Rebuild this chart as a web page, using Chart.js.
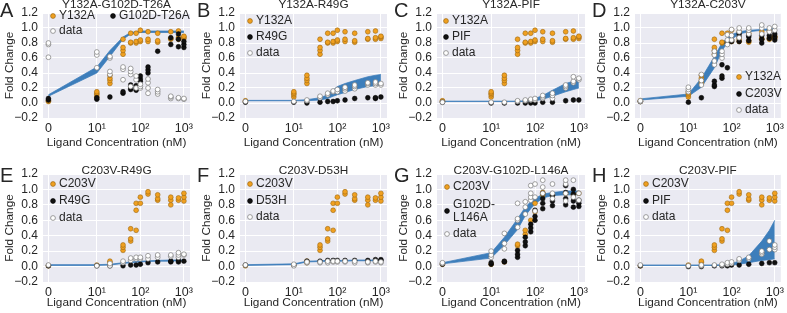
<!DOCTYPE html>
<html>
<head>
<meta charset="utf-8">
<script src="https://cdn.jsdelivr.net/npm/chart.js@4.4.1/dist/chart.umd.min.js"></script>
<style>
  html, body { margin: 0; padding: 0; background: #fff; }
  #wrap { position: relative; width: 787px; height: 313px; overflow: hidden; }
  #wrap canvas { position: absolute; left: 0; top: 0; }
</style>
</head>
<body>
<div id="wrap"></div>
<script>
// ======================
// Data
// ======================
const conc = [0, 10, 20, 40, 60, 80, 100, 150, 250, 500, 750, 1000];
const xTicks = [0, 10, 100, 1000];
const xTickLabels = ['0', '10\u00B9', '10\u00B2', '10\u00B3'];
const yTicks = [-0.2, 0, 0.2, 0.4, 0.6, 0.8, 1.0, 1.2];

// replicates per concentration
const y132a = [[0.02,0.03],[0.08,0.11,0.13,0.15],[0.26,0.30,0.33,0.37],[0.65,0.70,0.74,0.85],[0.80,0.81,0.93],[0.80,0.82,0.93],[0.82,0.84,0.97],[0.82,0.85,0.95],[0.81,0.83,0.93],[0.85,0.86,0.95],[0.85,0.87,0.96],[0.86,0.88,0.89]];
const c203v = [[0.01],[0.02],[0.05,0.07],[0.21,0.25,0.28],[0.33,0.36,0.49],[0.47,0.73,0.82],[0.82,0.90],[0.94,0.97],[0.86,0.88,0.93],[0.80,0.86,0.90],[0.86,0.89],[0.85,0.90,0.95]];
const c203vG = [[0.03],[0.03],[0.06],[0.27,0.29],[0.42,0.47],[0.60],[0.71,0.82],[0.93,0.96],[0.93],[0.95],[0.93],[0.95]];

const g102dT26a = [[0.04,0.06],[0.05,0.07],[0.08],[0.13,0.15],[0.18,0.20,0.24],[0.17,0.20,0.23],[0.29,0.32,0.36],[0.40,0.44,0.48],[0.69],[0.78,0.87],[0.75,0.85,0.92],[0.74,0.78,0.82]];
const r49gB = [[0.01],[0.01],[0.00],[0.01],[0.02],[0.02],[0.03],[0.04],[0.06],[0.07],[0.06,0.07],[0.08]];
const pifC = [[0.01],[0.00],[0.00],[0.00],[0.00],[0.00],[0.00],[0.01],[0.01],[0.03],[0.04],[0.04]];
const c203vD = [[0.02],[0.01],[0.07],[0.22,0.24,0.29],[0.33,0.36,0.51],[0.47,0.80],[0.82,0.84],[0.82,0.88,0.92],[0.83,0.88,0.90],[0.80,0.85,0.90],[0.86,0.90],[0.84,0.88,0.92]];
const r49gE = [[0.01],[0.01],[0.01],[0.01],[0.02],[0.02],[0.03],[0.05],[0.06],[0.06,0.07],[0.06,0.08],[0.07]];
const d53h = [[0.02],[0.02],[0.07],[0.07],[0.07,0.08],[0.08],[0.08],[0.08],[0.08],[0.08],[0.09],[0.08,0.09]];
const g102dL146a = [[0.03],[0.03,0.05],[0.06,0.07],[0.12,0.16,0.21],[0.27,0.32,0.38],[0.45,0.50,0.55],[0.60,0.65,0.73],[0.75,0.82,0.88,0.95],[0.79,0.85,0.92],[0.80,0.88,0.96,1.05],[0.77,0.85,0.94,1.00],[0.78,0.82,0.86]];
const pifH = [[0.01],[0.00],[0.00],[0.01],[0.01],[0.01],[0.02],[0.02],[0.03],[0.04],[0.05],[0.05]];

const dataA = [[0.61,0.78,0.80],[0.47,0.64,0.68],[0.38,0.42,0.60,0.62],[0.31,0.45,0.48],[0.22,0.38,0.42,0.46],[0.20,0.31,0.36],[0.20,0.22,0.25],[0.13,0.20,0.27,0.32],[0.12,0.15,0.18],[0.06,0.08,0.09],[0.06,0.07],[0.05,0.06]];
const dataB = [[0.02],[0.02],[0.03,0.04],[0.07,0.09],[0.11,0.13],[0.15,0.16],[0.15,0.18],[0.16,0.19,0.21],[0.19,0.22,0.24],[0.24,0.26,0.27],[0.24,0.26,0.28],[0.24,0.26]];
const dataC = [[0.01],[0.01],[0.01],[0.02,0.03],[0.03,0.04],[0.04,0.05],[0.04,0.06],[0.06,0.08,0.10],[0.06,0.10,0.13],[0.20,0.22,0.24],[0.27,0.29,0.35],[0.31,0.33]];
const dataD = [[0.02,0.03],[0.15,0.18,0.21],[0.24,0.30,0.38],[0.51,0.56,0.64,0.69],[0.60,0.65,0.69],[0.78,0.84,0.91],[0.84,0.90,0.98],[0.87,0.95,1.00],[0.92,0.97,1.00],[0.92,1.00,1.04],[0.95,1.00],[0.97,1.02]];
const dataE = [[0.02],[0.01],[0.01,0.04],[0.05,0.07],[0.08,0.11],[0.10,0.12],[0.10,0.12],[0.10,0.14],[0.12,0.15],[0.13,0.15],[0.12,0.15,0.18],[0.15,0.16]];
const dataF = [[0.02],[0.01,0.03],[0.05,0.06],[0.05,0.06],[0.05,0.07],[0.06,0.07],[0.06,0.07],[0.06,0.07],[0.05,0.07],[0.05,0.06],[0.06,0.07],[0.05,0.06]];
const dataG = [[0.04,0.05],[0.12,0.15,0.20],[0.23,0.30,0.43],[0.51,0.60,0.62,0.82],[0.68,0.77,0.84],[0.86,0.90,0.95,1.05],[0.72,0.90,1.07],[0.95,1.03,1.12],[0.88,0.95,1.07],[0.85,0.95,1.07,1.12],[0.90,1.12],[0.86,0.95]];
const dataH = [[0.02],[0.01],[0.01,0.02],[0.02],[0.02,0.03],[0.03,0.05],[0.04,0.06],[0.08,0.10],[0.10,0.12],[0.16,0.18,0.20],[0.22,0.33],[0.22,0.25,0.28]];

// model bands (lower / upper) per concentration
const lowA = [0.09,0.40,0.62,0.85,0.92,0.93,0.94,0.94,0.94,0.94,0.94,0.94];
const upA  = [0.11,0.48,0.70,0.88,0.94,0.95,0.96,0.96,0.96,0.96,0.96,0.96];
const lowB = [0.03,0.03,0.03,0.04,0.06,0.09,0.11,0.14,0.18,0.22,0.23,0.24];
const upB  = [0.035,0.035,0.045,0.07,0.11,0.17,0.22,0.26,0.30,0.35,0.37,0.38];
const lowC = [0.02,0.02,0.02,0.02,0.02,0.025,0.03,0.05,0.09,0.15,0.18,0.20];
const upC  = [0.025,0.025,0.025,0.025,0.03,0.04,0.06,0.10,0.17,0.26,0.29,0.31];
const lowD = [0.04,0.09,0.21,0.47,0.70,0.80,0.85,0.92,0.95,0.97,0.97,0.97];
const upD  = [0.055,0.12,0.33,0.62,0.80,0.87,0.91,0.95,0.97,0.98,0.99,0.99];
const lowE = [0.015,0.015,0.02,0.04,0.05,0.055,0.06,0.065,0.07,0.07,0.075,0.075];
const upE  = [0.025,0.025,0.03,0.05,0.06,0.065,0.07,0.075,0.08,0.085,0.085,0.085];
const lowF = [0.015,0.025,0.06,0.065,0.07,0.07,0.07,0.07,0.075,0.075,0.075,0.075];
const upF  = [0.025,0.035,0.07,0.075,0.08,0.08,0.08,0.08,0.085,0.085,0.085,0.085];
const lowG = [0.035,0.11,0.28,0.48,0.66,0.75,0.81,0.89,0.92,0.93,0.93,0.93];
const upG  = [0.05,0.18,0.38,0.62,0.77,0.84,0.88,0.94,0.96,0.98,0.98,0.98];
const lowH = [0.015,0.015,0.015,0.015,0.015,0.02,0.02,0.03,0.05,0.08,0.09,0.10];
const upH  = [0.02,0.02,0.02,0.02,0.025,0.03,0.04,0.07,0.14,0.33,0.47,0.60];

// ======================
// Layout / style
// ======================
const W = 787, H = 313;
const cols = [[43, 190], [240, 387], [437, 585], [635, 782]];
const rows = [[13, 118], [174, 282]];
const xLabelY = [142.5, 303];
const titleY = [5, 171];
const Y_AXIS_W = 30, X_AXIS_H = 20;
const FONT = "'Liberation Sans', Arial, sans-serif";
const TXT = '#262626';
const ORANGE = '#f0a020', ORANGE_EDGE = '#9c6812';
const BAND = '#3d7ebb';

const panels = [
  { letter: 'A', title: 'Y132A-G102D-T26A', col: 0, row: 0, sets: [y132a, g102dT26a, dataA], band: [lowA, upA],
    legend: [['o', 'Y132A', 10, 3], ['k', 'G102D-T26A', 70, 3], ['w', 'data', 10, 18]] },
  { letter: 'B', title: 'Y132A-R49G', col: 1, row: 0, sets: [y132a, r49gB, dataB], band: [lowB, upB],
    legend: [['o', 'Y132A', 10, 8], ['k', 'R49G', 10, 24], ['w', 'data', 10, 40]] },
  { letter: 'C', title: 'Y132A-PIF', col: 2, row: 0, sets: [y132a, pifC, dataC], band: [lowC, upC],
    legend: [['o', 'Y132A', 9, 8], ['k', 'PIF', 9, 24], ['w', 'data', 9, 40]] },
  { letter: 'D', title: 'Y132A-C203V', col: 3, row: 0, sets: [y132a, c203vD, dataD], band: [lowD, upD],
    legend: [['o', 'Y132A', 104, 64], ['k', 'C203V', 104, 81], ['w', 'data', 104, 97]] },
  { letter: 'E', title: 'C203V-R49G', col: 0, row: 1, sets: [c203v, r49gE, dataE], band: [lowE, upE],
    legend: [['o', 'C203V', 10, 10], ['k', 'R49G', 10, 27], ['w', 'data', 10, 44]] },
  { letter: 'F', title: 'C203V-D53H', col: 1, row: 1, sets: [c203v, d53h, dataF], band: [lowF, upF],
    legend: [['o', 'C203V', 10, 10], ['k', 'D53H', 10, 27], ['w', 'data', 10, 43]] },
  { letter: 'G', title: 'C203V-G102D-L146A', col: 2, row: 1, sets: [c203vG, g102dL146a, dataG], band: [lowG, upG],
    legend: [['o', 'C203V', 10, 13], ['k', 'G102D-\nL146A', 10, 37], ['w', 'data', 10, 60]] },
  { letter: 'H', title: 'C203V-PIF', col: 3, row: 1, sets: [c203v, pifH, dataH], band: [lowH, upH],
    legend: [['o', 'C203V', 11, 10], ['k', 'PIF', 11, 27], ['w', 'data', 11, 43]] }
];

// ======================
// Symlog x scale (linthresh 10, linscale 1, like matplotlib)
// ======================
const LIN = 10, LINSCALE = 1 / 0.9;
function symlog(v) {
  const a = Math.abs(v);
  const t = a <= LIN ? a / LIN * LINSCALE : LINSCALE + Math.log10(a / LIN);
  return v < 0 ? -t : t;
}
function symexp(t) {
  const a = Math.abs(t);
  const v = a <= LINSCALE ? a / LINSCALE * LIN : LIN * Math.pow(10, a - LINSCALE);
  return t < 0 ? -v : v;
}
const T_SPAN = symlog(1000);
const X_MIN = symexp(-0.04 * T_SPAN), X_MAX = symexp(1.045 * T_SPAN);

class SymlogScale extends Chart.Scale {
  determineDataLimits() {
    this.min = this.options.min;
    this.max = this.options.max;
  }
  buildTicks() {
    return xTicks.map(v => ({ value: v }));
  }
  getLabelForValue(v) { return String(v); }
  configure() {
    super.configure();
    this._t0 = symlog(this.min);
    this._t1 = symlog(this.max);
  }
  getPixelForValue(v) {
    return this.getPixelForDecimal((symlog(v) - this._t0) / (this._t1 - this._t0));
  }
  getValueForPixel(p) {
    return symexp(this._t0 + this.getDecimalForPixel(p) * (this._t1 - this._t0));
  }
  getPixelForTick(i) {
    return this.getPixelForValue(this.ticks[i].value);
  }
}
SymlogScale.id = 'symlog';
SymlogScale.defaults = {};
Chart.register(SymlogScale);

// ======================
// Decorations: background, title, letter, axis titles, legend
// ======================
function marker(ctx, kind, x, y) {
  ctx.beginPath();
  ctx.arc(x, y, 2.4, 0, Math.PI * 2);
  if (kind === 'o') { ctx.fillStyle = ORANGE; ctx.strokeStyle = ORANGE_EDGE; }
  else if (kind === 'k') { ctx.fillStyle = '#111'; ctx.strokeStyle = '#000'; }
  else { ctx.fillStyle = '#fff'; ctx.strokeStyle = '#777'; }
  ctx.lineWidth = 0.7;
  ctx.fill();
  ctx.stroke();
}

const deco = {
  id: 'deco',
  beforeDraw(chart, args, p) {
    const { ctx, chartArea: a } = chart;
    ctx.save();
    ctx.fillStyle = '#eaeaf2';
    ctx.fillRect(a.left, a.top, a.width, a.height);
    ctx.restore();
  },
  afterDraw(chart, args, p) {
    const { ctx, chartArea: a } = chart;
    const midX = (a.left + a.right) / 2;
    ctx.save();
    ctx.fillStyle = TXT;
    ctx.textBaseline = 'middle';

    // title
    ctx.textAlign = 'center';
    ctx.font = `11.8px ${FONT}`;
    ctx.fillText(p.title, midX, titleY[p.row]);

    // panel letter
    ctx.textAlign = 'left';
    ctx.textBaseline = 'alphabetic';
    ctx.font = `20px ${FONT}`;
    ctx.fillText(p.letter, a.left - 43, a.top + (p.row === 0 ? 4 : 8));

    // axis titles
    ctx.textBaseline = 'middle';
    ctx.textAlign = 'center';
    ctx.font = `11.8px ${FONT}`;
    ctx.fillText('Ligand Concentration (nM)', midX, xLabelY[p.row]);
    ctx.save();
    ctx.translate(a.left - 33, (a.top + a.bottom) / 2);
    ctx.rotate(-Math.PI / 2);
    ctx.fillText('Fold Change', 0, 0);
    ctx.restore();

    // legend
    ctx.textAlign = 'left';
    ctx.font = `12px ${FONT}`;
    p.legend.forEach(([kind, text, dx, dy]) => {
      const mx = a.left + dx, my = a.top + dy;
      marker(ctx, kind, mx, my);
      ctx.fillStyle = TXT;
      const lines = text.split('\n');
      lines.forEach((ln, i) => {
        ctx.fillText(ln, mx + 6, my + (i - (lines.length - 1) / 2) * 13);
      });
    });
    ctx.restore();
  }
};
Chart.register(deco);

// ======================
// Build charts
// ======================
function pts(groups) {
  const out = [];
  groups.forEach((vals, i) => vals.forEach(v => out.push({ x: conc[i], y: v })));
  return out;
}
function line(vals) {
  return conc.map((c, i) => ({ x: c, y: vals[i] }));
}
function fmtY(v) {
  const s = Math.abs(v).toFixed(1);
  return v < -1e-9 ? '\u2212' + s : s;
}

const wrap = document.getElementById('wrap');
panels.forEach(p => {
  const cv = document.createElement('canvas');
  cv.width = W; cv.height = H;
  cv.style.width = W + 'px'; cv.style.height = H + 'px';
  wrap.appendChild(cv);

  const [l, r] = cols[p.col];
  const [t, b] = rows[p.row];
  const [orange, black, open] = p.sets;
  const [low, up] = p.band;

  new Chart(cv, {
    type: 'scatter',
    data: {
      datasets: [
        { data: pts(open), order: 1, pointRadius: 2.4, pointBackgroundColor: '#fff', pointBorderColor: '#7a7a7a', pointBorderWidth: 0.7 },
        { data: pts(black), order: 2, pointRadius: 2.4, pointBackgroundColor: '#111', pointBorderColor: '#000', pointBorderWidth: 0.5 },
        { data: pts(orange), order: 3, pointRadius: 2.4, pointBackgroundColor: ORANGE, pointBorderColor: ORANGE_EDGE, pointBorderWidth: 0.6 },
        { type: 'line', data: line(up), order: 4, pointRadius: 0, borderColor: 'rgba(61,126,187,0.75)', borderWidth: 1, fill: false, tension: 0 },
        { type: 'line', data: line(low), order: 5, pointRadius: 0, borderColor: 'rgba(61,126,187,0.75)', borderWidth: 1, backgroundColor: BAND, fill: '-1', tension: 0 }
      ]
    },
    options: {
      responsive: false,
      animation: false,
      devicePixelRatio: 1,
      events: [],
      layout: { padding: { left: l - Y_AXIS_W, right: W - r, top: t, bottom: H - b - X_AXIS_H } },
      plugins: { legend: { display: false }, tooltip: { enabled: false }, deco: p },
      scales: {
        x: {
          type: 'symlog', position: 'bottom', min: X_MIN, max: X_MAX,
          grid: { color: '#ffffff', lineWidth: 1, drawTicks: false },
          border: { display: false },
          ticks: { color: TXT, padding: 3, font: { family: FONT, size: 12.5 }, maxRotation: 0, autoSkip: false,
                   callback: (v, i) => xTickLabels[i] },
          afterFit: s => { s.height = X_AXIS_H; }
        },
        y: {
          type: 'linear', min: yTicks[0], max: yTicks[yTicks.length - 1],
          afterBuildTicks: s => { s.ticks = yTicks.map(v => ({ value: v })); },
          grid: { color: '#ffffff', lineWidth: 1, drawTicks: false },
          border: { display: false },
          ticks: { color: TXT, padding: 5, autoSkip: false, font: { family: FONT, size: 12 }, callback: v => fmtY(v) },
          afterFit: s => { s.width = Y_AXIS_W; }
        }
      }
    }
  });
});
</script>
</body>
</html>
